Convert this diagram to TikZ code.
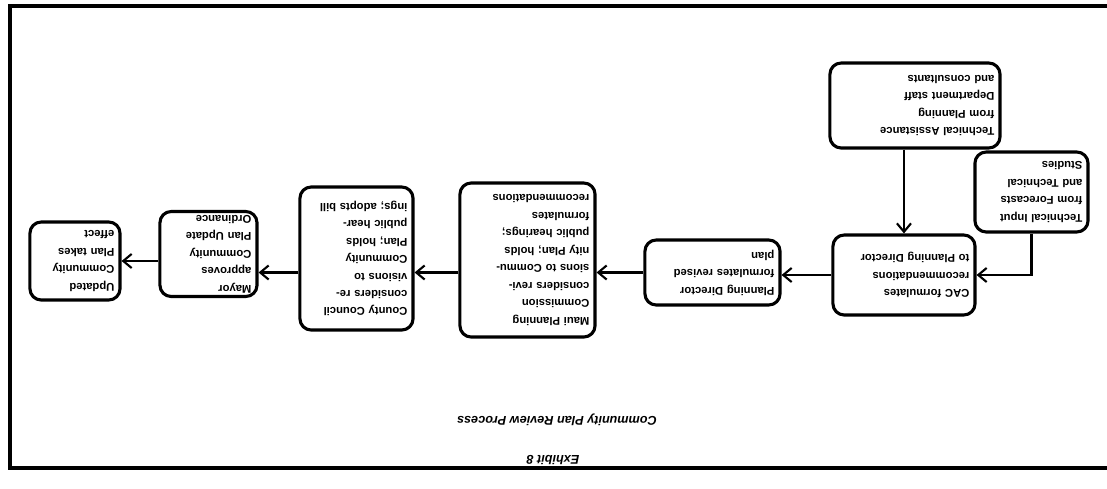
\documentclass[tikz,border=0pt]{standalone}
\usepackage{fontspec}
\setmainfont{Liberation Sans}
\usetikzlibrary{arrows.meta,calc,positioning}

\begin{document}
\begin{tikzpicture}[x=0.025cm, y=0.025cm, rotate=180, transform shape,
		stagebox/.style={draw, line width=2.2pt, rounded corners=8pt, align=left, inner xsep=4pt, inner ysep=2pt, font=\fontsize{8}{12.4}\selectfont\bfseries},
		flowarrow/.style={line width=1.5pt, -{Straight Barb[length=6pt, width=10pt, line width=1.5pt]}}]
		\useasboundingbox (0,0) rectangle (1107,488);
		\draw[line width=2.5pt] (0,6) -- (1097,6) -- (1097,468) -- (0,468);
		\node[stagebox, text width=3.97cm, minimum height=2.125cm] (assist) at (192,105.5)
			{Technical Assistance\\from Planning\\Department staff\\and consultants};
		\node[stagebox, text width=2.545cm, minimum height=2cm] (input) at (75.5,192)
			{Technical Input\\from Forecasts\\and Technical\\Studies};
		\node[stagebox, text width=3.27cm, minimum height=2cm] (cac) at (203,275)
			{CAC formulates\\recommendations\\to Planning Director};
		\node[stagebox, text width=3.095cm, minimum height=1.625cm] (director) at (394.5,272.5)
			{Planning Director\\formulates revised\\plan};
		\node[stagebox, text width=3.095cm, minimum height=3.85cm] (commission) at (579.5,260)
			{Maui Planning\\Commission\\considers revi-\\sions to Commu-\\nity Plan; holds\\public hearings;\\formulates\\recommendations};
		\node[stagebox, text width=2.545cm, minimum height=3.575cm] (council) at (750.5,258.5)
			{County Council\\considers re-\\visions to\\Community\\Plan; holds\\public hear-\\ings; adopts bill};
		\node[stagebox, text width=2.145cm, minimum height=2.125cm] (mayor) at (898.5,254)
			{Mayor\\approves\\Community\\Plan Update\\Ordinance};
		\node[stagebox, text width=1.97cm, minimum height=1.95cm] (effect) at (1032,261)
			{Updated\\Community\\Plan takes\\effect};
		\node[font=\fontsize{9}{11}\selectfont\bfseries\itshape] (caption) at (550,420) {Community Plan Review Process};
		\node[font=\fontsize{9}{11}\selectfont\bfseries\itshape] (exhibit) at (554,460) {Exhibit 8};
		\draw[flowarrow] (assist.north -| cac.south) -- (cac.south);
		\draw[flowarrow] (input.north) |- (cac.west);
		\draw[flowarrow] (cac.east) -- (cac.east -| director.west);
		\draw[flowarrow] (director.east) -- (director.east -| commission.west);
		\draw[flowarrow] (commission.east |- director.east) -- (council.west |- director.east);
		\draw[flowarrow] (council.east |- director.east) -- (mayor.west |- director.east);
		\draw[flowarrow] (mayor.east |- effect.west) -- (effect.west);
	\end{tikzpicture}
\end{document}
